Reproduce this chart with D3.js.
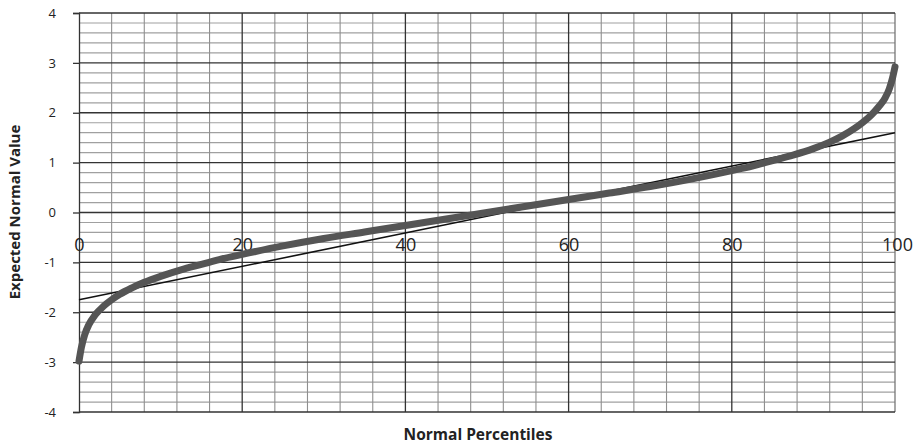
<!DOCTYPE html>
<html><head><meta charset="utf-8">
<script src="https://cdn.jsdelivr.net/npm/d3@7"></script>
<style>body{margin:0;background:#fff;} svg{display:block;}</style>
</head><body>
<svg id="c" width="921" height="445"></svg>
<script>
// Data
const percentiles = [0, 0.3, 0.7, 1.2, 2, 3, 4, 5, 6.5, 8, 10, 12.5, 15, 17.5, 20, 25, 30, 35, 40, 45, 50, 55, 60, 65, 70, 75, 80, 82.5, 85, 87.5, 90, 92, 93.5, 95, 96, 97, 98, 98.8, 99.3, 99.7, 100];
const expectedValues = [-2.98, -2.7, -2.45, -2.25, -2.05, -1.88, -1.75, -1.64, -1.51, -1.4, -1.28, -1.15, -1.04, -0.93, -0.84, -0.67, -0.52, -0.39, -0.26, -0.13, 0, 0.13, 0.26, 0.39, 0.52, 0.67, 0.84, 0.93, 1.04, 1.15, 1.28, 1.41, 1.53, 1.68, 1.8, 1.94, 2.12, 2.3, 2.48, 2.7, 2.92];
const fitX = [0, 100];
const fitY = [-1.75, 1.6];
const xTicks = [0, 20, 40, 60, 80, 100];
const yTicks = [-4, -3, -2, -1, 0, 1, 2, 3, 4];
const xTitle = "Normal Percentiles";
const yTitle = "Expected Normal Value";

const svg = d3.select("#c");
const L = 79, R = 895, T = 13, B = 412;
const x = d3.scaleLinear().domain([0, 100]).range([L, R]);
const y = d3.scaleLinear().domain([-4, 4]).range([B, T]);
const font = "'Open Sans', 'Noto Sans', sans-serif";

// minor horizontal grid
const hMinor = d3.range(-4, 4.001, 0.2).map(v => +v.toFixed(1));
svg.append("g").selectAll("line").data(hMinor.filter(v => Math.abs(v - Math.round(v)) > 1e-6)).join("line")
  .attr("x1", L).attr("x2", R).attr("y1", d => y(d)).attr("y2", d => y(d))
  .attr("stroke", "#a0a0a0").attr("stroke-width", 1.2);
// minor vertical grid
const vMinor = d3.range(0, 100.001, 4).filter(v => v % 20 !== 0);
svg.append("g").selectAll("line").data(vMinor).join("line")
  .attr("x1", d => x(d)).attr("x2", d => x(d)).attr("y1", T).attr("y2", B)
  .attr("stroke", "#8f8f8f").attr("stroke-width", 1.1);
// major vertical
svg.append("g").selectAll("line").data(xTicks.filter(v => v > 0 && v < 100)).join("line")
  .attr("x1", d => x(d)).attr("x2", d => x(d)).attr("y1", T).attr("y2", B)
  .attr("stroke", "#333").attr("stroke-width", 1.3);
svg.append("line").attr("x1", x(100)).attr("x2", x(100)).attr("y1", T).attr("y2", B)
  .attr("stroke", "#777").attr("stroke-width", 1.3);
// major horizontal
svg.append("g").selectAll("line").data(yTicks).join("line")
  .attr("x1", L).attr("x2", R).attr("y1", d => y(d)).attr("y2", d => y(d))
  .attr("stroke", "#333").attr("stroke-width", 1.3);

// y axis
const yAxis = d3.axisLeft(y).tickValues(yTicks).tickSize(6).tickPadding(17).tickFormat(d => String(d));
const gy = svg.append("g").attr("transform", `translate(${L},0)`).call(yAxis);
gy.select(".domain").attr("stroke", "#333").attr("stroke-width", 1.3);
gy.selectAll(".tick line").attr("stroke", "#333").attr("stroke-width", 1.3);
gy.selectAll(".tick text").attr("font-family", font).attr("font-size", 13).attr("fill", "#222").attr("text-anchor", "end");

// x tick labels (axis crossing at 0, labels below it)
const xAxis = d3.axisBottom(x).tickValues(xTicks).tickSize(0).tickPadding(26).tickFormat(d => String(d));
const gx = svg.append("g").attr("transform", `translate(0,${y(0)})`).call(xAxis);
gx.select(".domain").remove();
gx.selectAll(".tick text").attr("font-family", font).attr("font-size", 18).attr("fill", "#222");
gx.selectAll(".tick").filter(d => d === 100).select("text").attr("dx", 2);

// fit line
const fit = fitX.map((v, i) => [v, fitY[i]]);
svg.append("path").datum(fit)
  .attr("d", d3.line().x(d => x(d[0])).y(d => y(d[1])))
  .attr("stroke", "#111").attr("stroke-width", 1.6).attr("fill", "none");

// curve
const pts = percentiles.map((p, i) => [p, expectedValues[i]]);
svg.append("path").datum(pts)
  .attr("d", d3.line().curve(d3.curveMonotoneX).x(d => x(d[0])).y(d => y(d[1])))
  .attr("stroke", "#555").attr("stroke-width", 7).attr("fill", "none")
  .attr("stroke-linecap", "round").attr("stroke-linejoin", "round");

// titles
svg.append("text").attr("x", 478).attr("y", 440).attr("text-anchor", "middle")
  .attr("font-family", font).attr("font-weight", "bold").attr("font-size", 15.5).attr("fill", "#222").text(xTitle);
svg.append("text").attr("transform", "translate(20,212) rotate(-90)").attr("text-anchor", "middle")
  .attr("font-family", font).attr("font-weight", "bold").attr("font-size", 15).attr("fill", "#222").text(yTitle);
</script>
</body></html>
